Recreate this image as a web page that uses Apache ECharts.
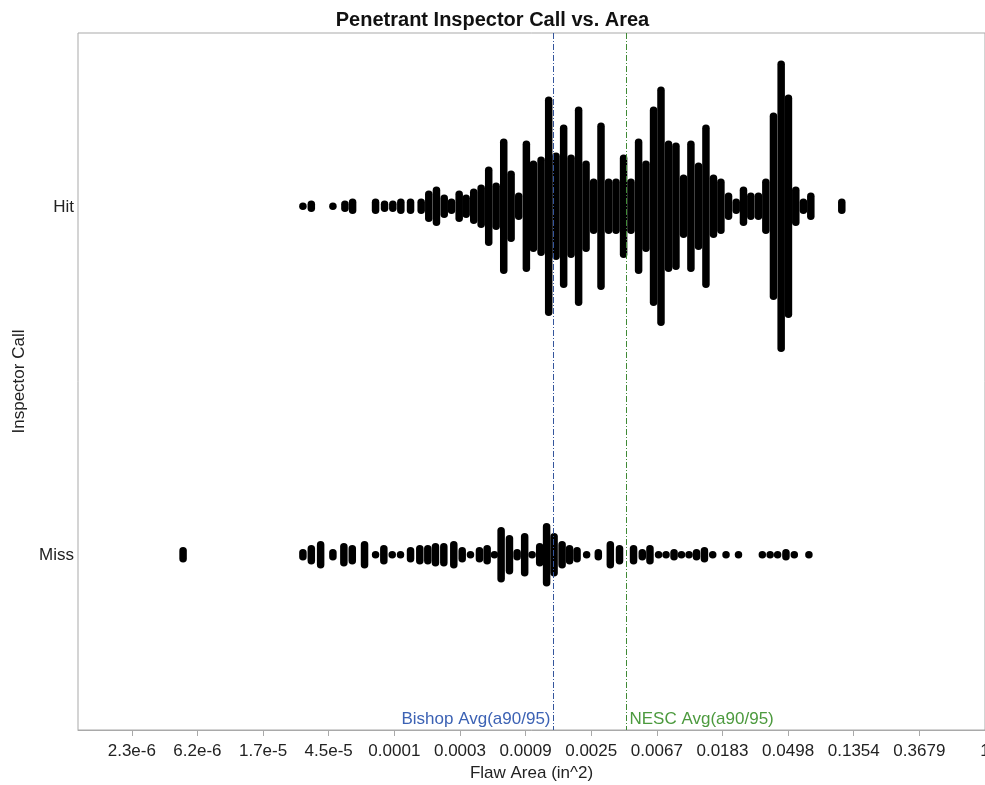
<!DOCTYPE html>
<html>
<head>
<meta charset="utf-8">
<script src="https://cdn.jsdelivr.net/npm/echarts@6/dist/echarts.min.js"></script>
<style>
  html, body { margin: 0; padding: 0; background: #ffffff; }
  #chart { width: 985px; height: 785px; }
</style>
</head>
<body>
<div id="chart"></div>
<script>
// ---- Data (x values are natural log of flaw area, in^2) ----
const categories = ['Miss', 'Hit'];

const hitLnArea = [-10.393, -10.265, -9.936, -9.753, -9.636, -9.286, -9.149, -9.023, -8.901, -8.753,
  -8.591, -8.475, -8.358, -8.240, -8.129, -8.012, -7.906, -7.790, -7.677, -7.562,
  -7.449, -7.333, -7.221, -7.105, -6.988, -6.881, -6.764, -6.648, -6.536, -6.420,
  -6.307, -6.192, -6.079, -5.963, -5.851, -5.735, -5.622, -5.507, -5.394, -5.278,
  -5.166, -5.050, -4.937, -4.822, -4.709, -4.593, -4.481, -4.365, -4.252, -4.137,
  -4.024, -3.908, -3.791, -3.680, -3.568, -3.452, -3.339, -3.223, -3.106, -2.995,
  -2.883, -2.767, -2.654, -2.182];
const hitCounts = [1, 2, 1, 2, 3, 3, 2, 2, 3, 3,
  3, 7, 9, 5, 3, 7, 5, 8, 10, 19,
  11, 33, 17, 6, 32, 22, 24, 54, 26, 40,
  25, 49, 22, 13, 41, 13, 13, 25, 13, 33,
  22, 49, 59, 32, 31, 15, 32, 21, 40, 15,
  13, 6, 3, 9, 6, 6, 13, 46, 72, 55,
  9, 3, 6, 3];

const missLnArea = [-12.219, -10.393, -10.265, -10.123, -9.936, -9.769, -9.641, -9.454, -9.286, -9.160,
  -9.032, -8.906, -8.753, -8.612, -8.490, -8.373, -8.246, -8.094, -7.966, -7.840,
  -7.703, -7.586, -7.475, -7.373, -7.246, -7.129, -7.014, -6.901, -6.785, -6.680,
  -6.566, -6.444, -6.330, -6.216, -6.070, -5.892, -5.709, -5.569, -5.355, -5.222,
  -5.105, -4.974, -4.860, -4.738, -4.625, -4.510, -4.396, -4.275, -4.149, -3.946,
  -3.756, -3.393, -3.274, -3.160, -3.033, -2.906, -2.683];
const missCounts = [3, 2, 4, 6, 2, 5, 4, 6, 1, 4,
  1, 1, 3, 4, 4, 5, 5, 6, 3, 1,
  3, 4, 1, 13, 9, 2, 10, 1, 5, 15,
  10, 6, 4, 3, 1, 2, 6, 4, 4, 2,
  4, 1, 1, 2, 1, 1, 2, 3, 1, 1,
  1, 1, 1, 1, 2, 1, 1];

const tickLnValues = [-13, -12, -11, -10, -9, -8, -7, -6, -5, -4, -3, -2, -1, 0];
const tickLabels = ['2.3e-6', '6.2e-6', '1.7e-5', '4.5e-5', '0.0001', '0.0003', '0.0009',
  '0.0025', '0.0067', '0.0183', '0.0498', '0.1354', '0.3679', '1'];

const refLineNames = ['Bishop Avg(a90/95)', 'NESC Avg(a90/95)'];
const refLineLnArea = [-6.577, -5.466];

// ---- Build series data ----
const colData = [];
hitLnArea.forEach((v, i) => colData.push([v, 'Hit', hitCounts[i]]));
missLnArea.forEach((v, i) => colData.push([v, 'Miss', missCounts[i]]));

const DOT = 7.5, STEP = 4, W = 7.5;
const refColors = ['#34559c', '#3f8a35'];
const refTextColors = ['#3c62b4', '#4c9a3e'];

const chart = echarts.init(document.getElementById('chart'));
chart.setOption({
  backgroundColor: '#ffffff',
  animation: false,
  title: {
    text: 'Penetrant Inspector Call vs. Area',
    left: 'center',
    top: 5,
    textStyle: { fontFamily: 'Liberation Sans', fontWeight: 'bold', fontSize: 20, color: '#111' }
  },
  grid: {
    left: 78, right: 0, top: 33, bottom: 55,
    outerBoundsMode: 'none',
    containLabel: false,
    show: true, borderColor: '#a9a9a9', borderWidth: 1, backgroundColor: '#ffffff'
  },
  xAxis: {
    type: 'value',
    min: -13.82, max: 0,
    name: 'Flaw Area (in^2)',
    nameLocation: 'middle',
    nameGap: 35,
    nameTextStyle: { fontFamily: 'Liberation Sans', fontSize: 17, color: '#222' },
    axisLine: { show: true, lineStyle: { color: '#a9a9a9' } },
    axisTick: { show: true, length: 6, lineStyle: { color: '#a9a9a9' }, customValues: tickLnValues },
    axisLabel: {
      customValues: tickLnValues,
      fontFamily: 'Liberation Sans', fontSize: 17, color: '#222', margin: 13,
      formatter: function (val) {
        const idx = tickLnValues.findIndex(t => Math.abs(t - val) < 1e-6);
        return idx >= 0 ? tickLabels[idx] : '';
      }
    },
    splitLine: { show: false }
  },
  yAxis: {
    type: 'category',
    data: categories,
    name: 'Inspector Call',
    nameLocation: 'middle',
    nameGap: 50,
    nameTextStyle: { fontFamily: 'Liberation Sans', fontSize: 17, color: '#222' },
    axisLine: { show: true, lineStyle: { color: '#a9a9a9' } },
    axisTick: { show: false },
    axisLabel: { fontFamily: 'Liberation Sans', fontSize: 17, color: '#222', margin: 4 },
    splitLine: { show: false }
  },
  series: [
    {
      type: 'custom',
      data: colData,
      encode: { x: 0, y: 1 },
      renderItem: function (params, api) {
        const c = api.coord([api.value(0), api.value(1)]);
        const n = api.value(2);
        const h = DOT + (n - 1) * STEP;
        return {
          type: 'rect',
          shape: { x: c[0] - W / 2, y: c[1] - 1 - h / 2, width: W, height: h, r: W / 2 },
          style: { fill: '#000000' }
        };
      }
    },
    {
      type: 'custom',
      data: refLineLnArea.map((v, i) => [v, 0, i]),
      encode: { x: 0, y: 1 },
      z: 5,
      renderItem: function (params, api) {
        const i = api.value(2);
        const x = Math.round(api.coord([api.value(0), 0])[0]) + 0.5;
        const cs = params.coordSys;
        const left = i === 0;
        return {
          type: 'group',
          children: [
            {
              type: 'line',
              shape: { x1: x, y1: cs.y, x2: x, y2: cs.y + cs.height },
              style: { stroke: refColors[i], lineWidth: 1, lineDash: [6, 2, 1, 2] }
            },
            {
              type: 'text',
              style: {
                text: refLineNames[i],
                x: left ? x - 3 : x + 3,
                y: cs.y + cs.height - 11,
                align: left ? 'right' : 'left',
                verticalAlign: 'middle',
                fill: refTextColors[i],
                font: '17px "Liberation Sans"'
              }
            }
          ]
        };
      }
    }
  ]
});
</script>
</body>
</html>
